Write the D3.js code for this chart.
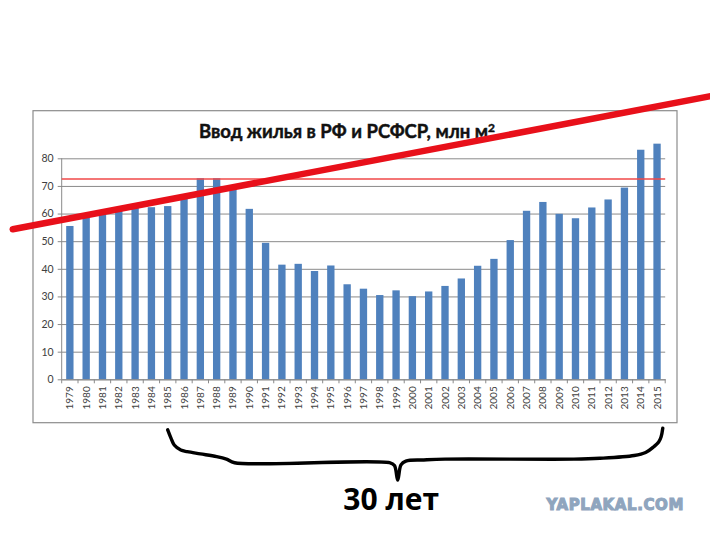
<!DOCTYPE html>
<html>
<head>
<meta charset="utf-8">
<script src="https://cdn.jsdelivr.net/npm/d3@7/dist/d3.min.js"></script>
<style>
  body { margin: 0; background: #fff; }
  svg { display: block; }
</style>
</head>
<body>
<div id="chart"></div>
<script>
// data
var years = d3.range(1979, 2016).map(String);
var housing = [55.5, 59.0, 60.5, 61.3, 62.0, 62.3, 62.7, 65.8, 72.8, 72.8,
  69.5, 61.7, 49.4, 41.5, 41.8, 39.2, 41.2, 34.4, 32.8, 30.5,
  32.2, 30.1, 31.8, 33.8, 36.5, 41.1, 43.6, 50.4, 61.0, 64.2,
  59.9, 58.3, 62.2, 65.1, 69.4, 83.1, 85.3];
var yTicks = [0, 10, 20, 30, 40, 50, 60, 70, 80];
var refLevel = 72.5;                       // thin red line (1987-88 peak)
var trendLine = [[1975.5, 54.3], [2018.3, 102.5]];   // hand drawn red line [year, value]
var bracket = [[1985.0, -18.3], [1985.2, -21.3], [1985.4, -23.8], [1985.8, -25.6],
  [1986.2, -26.2], [1987.0, -27.0], [1988.0, -28.0], [1988.6, -28.9], [1989.1, -30.2],
  [1998.6, -30.2], [1998.9, -31.2], [1999.1, -36.5], [1999.3, -31.0], [1999.6, -29.6],
  [2000.7, -29.2], [2002.0, -28.9], [2009.9, -28.9], [2011.5, -28.6], [2013.6, -27.6],
  [2014.3, -26.5], [2014.8, -24.4], [2015.1, -22.7], [2015.25, -20.8], [2015.35, -17.7]];
var title = 'Ввод жилья в РФ и РСФСР, млн м';
var bracketLabel = '30 лет';

var W = 710, H = 533;
var plotLeft = 61.7, plotRight = 665.2, plotTop = 158.3, plotBottom = 379.3;

var svg = d3.select('#chart').append('svg')
  .attr('width', W)
  .attr('height', H);

// chart frame
svg.append('rect')
  .attr('x', 33)
  .attr('y', 110.7)
  .attr('width', 644)
  .attr('height', 312)
  .attr('fill', '#fff')
  .attr('stroke', '#8c8c8c')
  .attr('stroke-width', 1.2);

var x = d3.scaleBand()
  .domain(years)
  .range([plotLeft, plotRight])
  .paddingInner(0.55)
  .paddingOuter(0.275);

var y = d3.scaleLinear()
  .domain([0, 80])
  .range([plotBottom, plotTop]);

// year -> pixel along the band centres, for the annotations
var xc = d3.scaleLinear()
  .domain([1979, 2015])
  .range([x('1979') + x.bandwidth() / 2, x('2015') + x.bandwidth() / 2]);

// title
var t = svg.append('text')
  .attr('x', 347)
  .attr('y', 138.3)
  .attr('text-anchor', 'middle')
  .attr('font-family', 'Lato, sans-serif')
  .attr('font-weight', 'bold')
  .attr('font-size', 18.5)
  .attr('fill', '#111')
  .attr('stroke', '#111')
  .attr('stroke-width', 0.45);
t.append('tspan').text(title);
t.append('tspan').attr('dy', -6).attr('font-size', 12).text('2');

// grid + y axis
var yAxis = d3.axisLeft(y)
  .tickValues(yTicks)
  .tickSize(-(plotRight - plotLeft))
  .tickPadding(8);

var yAxisGroup = svg.append('g')
  .attr('transform', 'translate(' + plotLeft + ',0)')
  .call(yAxis);
yAxisGroup.select('.domain').remove();
yAxisGroup.selectAll('.tick line')
  .attr('x1', -4)
  .attr('stroke', '#8a8a8a')
  .attr('stroke-width', 1);
yAxisGroup.selectAll('.tick text')
  .attr('font-family', 'Lato, sans-serif')
  .attr('font-size', 10.5)
  .attr('fill', '#404040');

svg.append('line')
  .attr('x1', plotLeft).attr('x2', plotLeft)
  .attr('y1', plotTop).attr('y2', plotBottom)
  .attr('stroke', '#8a8a8a');

// bars
svg.selectAll('rect.bar')
  .data(housing)
  .enter()
  .append('rect')
  .attr('class', 'bar')
  .attr('x', function(d, i) { return x(years[i]); })
  .attr('y', function(d) { return y(d); })
  .attr('width', x.bandwidth())
  .attr('height', function(d) { return y(0) - y(d); })
  .attr('fill', '#4f81bd');

// x axis
var xAxis = d3.axisBottom(x)
  .tickSize(0)
  .tickPadding(0);
var xAxisGroup = svg.append('g')
  .attr('transform', 'translate(0,' + plotBottom + ')')
  .call(xAxis);
xAxisGroup.select('.domain')
  .attr('stroke', '#8a8a8a');
xAxisGroup.selectAll('.tick text')
  .attr('transform', 'rotate(-90)')
  .attr('text-anchor', 'end')
  .attr('dy', '0.35em')
  .attr('x', -7)
  .attr('y', 0)
  .attr('font-family', 'Lato, sans-serif')
  .attr('font-size', 10)
  .attr('fill', '#404040');

// tick marks between categories
svg.selectAll('line.sep')
  .data(years.concat(['end']))
  .enter()
  .append('line')
  .attr('class', 'sep')
  .attr('x1', function(d, i) { return plotLeft + i * x.step(); })
  .attr('x2', function(d, i) { return plotLeft + i * x.step(); })
  .attr('y1', plotBottom)
  .attr('y2', plotBottom + 4)
  .attr('stroke', '#8a8a8a');

// thin red reference line
svg.append('line')
  .attr('x1', plotLeft)
  .attr('x2', plotRight)
  .attr('y1', y(refLevel))
  .attr('y2', y(refLevel))
  .attr('stroke', '#f04848')
  .attr('stroke-width', 1.3);

// hand drawn trend line
svg.append('line')
  .attr('x1', xc(trendLine[0][0]))
  .attr('y1', y(trendLine[0][1]))
  .attr('x2', xc(trendLine[1][0]))
  .attr('y2', y(trendLine[1][1]))
  .attr('stroke', '#e8101a')
  .attr('stroke-width', 6.5)
  .attr('stroke-linecap', 'round');

// bracket
var bracketLine = d3.line()
  .x(function(d) { return xc(d[0]); })
  .y(function(d) { return y(d[1]); })
  .curve(d3.curveCatmullRom);
svg.append('path')
  .attr('d', bracketLine(bracket))
  .attr('fill', 'none')
  .attr('stroke', '#000')
  .attr('stroke-width', 3.4)
  .attr('stroke-linecap', 'round')
  .attr('stroke-linejoin', 'round');

svg.append('text')
  .attr('x', xc(1998.7))
  .attr('y', 510)
  .attr('text-anchor', 'middle')
  .attr('font-family', '"Open Sans", sans-serif')
  .attr('font-weight', 'bold')
  .attr('font-size', 30)
  .attr('fill', '#000')
  .text(bracketLabel);

// watermark
svg.append('text')
  .attr('x', 684)
  .attr('y', 509.5)
  .attr('text-anchor', 'end')
  .attr('font-family', '"DejaVu Sans", sans-serif')
  .attr('font-weight', 'bold')
  .attr('font-size', 15)
  .attr('letter-spacing', 0.6)
  .attr('fill', '#8fa5be')
  .attr('stroke', '#8fa5be')
  .attr('stroke-width', 1.1)
  .text('YAPLAKAL.COM');
</script>
</body>
</html>
